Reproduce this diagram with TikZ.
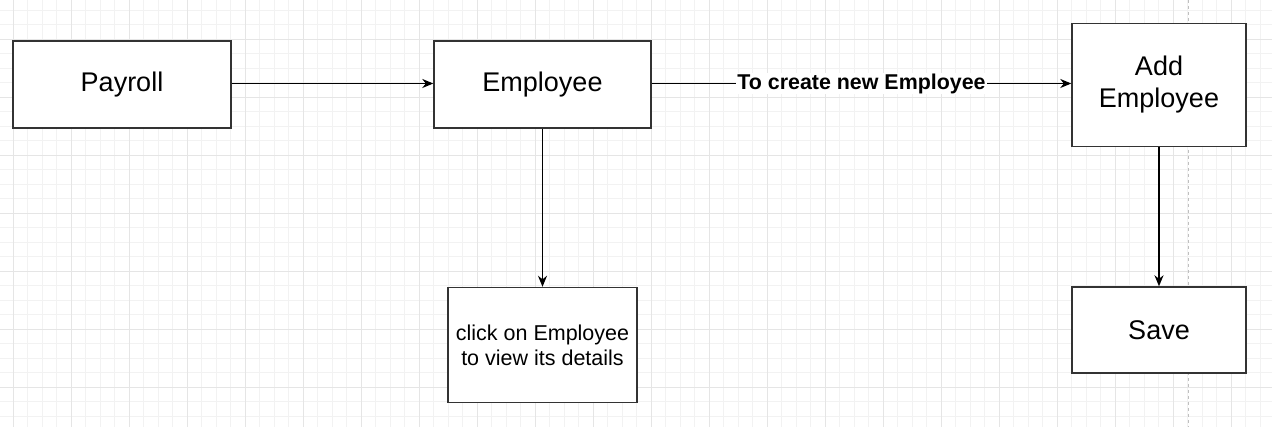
\documentclass[tikz,border=0pt]{standalone}
\usepackage{fontspec}
\setmainfont{Liberation Sans}
\usetikzlibrary{arrows.meta}

\begin{document}
\begin{tikzpicture}[x=1pt, y=-1pt, >={Stealth[length=11pt,width=9pt,inset=3.5pt]},
    minorline/.style={draw=gray!10, line width=0.8pt},
    majorline/.style={draw=gray!20, line width=0.8pt},
    box/.style={draw=black!80, line width=1.4pt, fill=white, inner sep=0pt, align=center,
      font=\fontsize{27}{32}\selectfont},
    smallbox/.style={box, font=\fontsize{21.5}{25}\selectfont},
    flow/.style={->, line width=1.5pt},
    edgelabel/.style={fill=white, inner sep=1pt, font=\bfseries\fontsize{21.4}{25}\selectfont}]
    \useasboundingbox (0,0) rectangle (1272,427);
    \fill[white] (0,0) rectangle (1272,427);

    % Hintergrundraster
    \foreach \gx in {0,...,87} \draw[minorline] ({13+14.5*\gx},0) -- ({13+14.5*\gx},427);
    \foreach \gy in {0,...,28} \draw[minorline] (0,{10+14.5*\gy}) -- (1272,{10+14.5*\gy});
    \foreach \gx in {0,...,21} \draw[majorline] ({13+58*\gx},0) -- ({13+58*\gx},427);
    \foreach \gy in {0,...,6} \draw[majorline] (0,{39+58*\gy}) -- (1272,{39+58*\gy});
    \draw[dashed, gray!50, line width=0.8pt] (1188,0) -- (1188,427);

    % Kaesten
    \node[box, minimum width=218, minimum height=87] (payroll) at (122,84.5) {Payroll};
    \node[box, minimum width=217, minimum height=87] (employee) at (542.5,84.5) {Employee};
    \node[box, minimum width=174, minimum height=123] (addemp) at (1159,85) {Add\\Employee};
    \node[box, minimum width=174, minimum height=86] (save) at (1159,330) {Save};
    \node[smallbox, minimum width=189, minimum height=115] (details) at (542.5,345)
      {click on Employee\\to view its details};

    % Verbindungen
    \draw[flow] (payroll.east |- 0,83.5) -- (employee.west |- 0,83.5);
    \draw[flow] (employee.east |- 0,83.5) -- node[edgelabel] {To create new Employee} (addemp.west |- 0,83.5);
    \draw[flow] (employee) -- (details);
    \draw[flow] (addemp) -- (save);
\end{tikzpicture}
\end{document}
